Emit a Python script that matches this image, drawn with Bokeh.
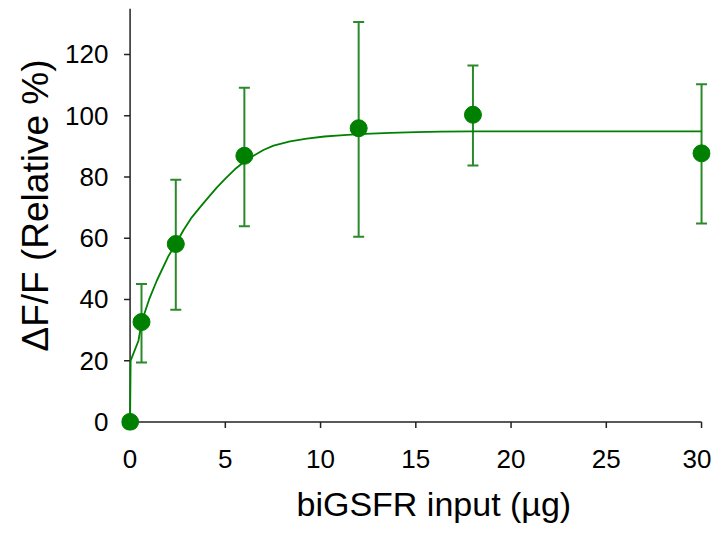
from bokeh.plotting import figure
from bokeh.models import (Range1d, Whisker, TeeHead, ColumnDataSource,
                          FixedTicker, Title)
from bokeh.embed import file_html
from bokeh.resources import INLINE

# data
dose = [0, 0.6, 2.4, 6, 12, 18, 30]
response = [0, 32.6, 58.1, 86.9, 95.9, 100.3, 87.7]
err_upper = [0, 45.0, 79.1, 109.1, 130.6, 116.4, 110.3]
err_lower = [0, 19.4, 36.6, 63.9, 60.5, 83.7, 64.8]

# fitted curve, points
fit_x = [0, 0.03, 0.44, 0.61, 1.0, 1.4, 2.0, 2.4, 2.8, 3.24, 3.7, 4.11, 4.55,
         4.99, 5.5, 6.04, 6.5, 7.0, 7.53, 8.4, 9.28, 10.2, 11.03, 12.0, 13.66,
         15.0, 16.3, 18, 30]
fit_y = [0, 20, 26.5, 32.7, 40.0, 46.1, 54.0, 58.1, 62.6, 66.8, 70.3, 73.3, 76.5,
         79.4, 82.5, 85.2, 87.0, 88.8, 90.2, 91.6, 92.5, 93.2, 93.6, 94.0, 94.4,
         94.6, 94.8, 94.9, 94.9]

x_ticks = [0, 5, 10, 15, 20, 25, 30]
y_ticks = [0, 20, 40, 60, 80, 100, 120]

x_title = "biGSFR input (µg)"
y_title = "ΔF/F (Relative %)"

FONT = "Liberation Sans"
GREEN = "#008000"
BAR = "#2a8a2a"
AXIS = "#222222"

X0, X1 = -0.45, 30.47
Y0, Y1 = -2.8, 135
PX_X = 19.03   # px per x unit
PX_Y = 3.058   # px per y unit

p = figure(width=711, height=539, output_backend="svg", toolbar_location=None,
           x_range=Range1d(X0, X1), y_range=Range1d(Y0, Y1),
           min_border_left=121, min_border_right=1, min_border_top=8,
           min_border_bottom=109)
p.outline_line_color = None
p.grid.grid_line_color = None

# axis lines and ticks drawn at the data zero lines
xmax, ymax = x_ticks[-1], Y1
p.segment(x0=[0, 0], y0=[0, 0], x1=[xmax, 0], y1=[0, ymax],
          line_color=AXIS, line_width=1.5)
tick_dy = 6 / PX_Y
tick_dx = 6 / PX_X
p.segment(x0=x_ticks, y0=[0] * len(x_ticks), x1=x_ticks,
          y1=[-tick_dy] * len(x_ticks), line_color=AXIS, line_width=1.5)
p.segment(x0=[0] * len(y_ticks), y0=y_ticks, x1=[-tick_dx] * len(y_ticks),
          y1=y_ticks, line_color=AXIS, line_width=1.5)

p.line(fit_x, fit_y, line_color=GREEN, line_width=1.8)

src = ColumnDataSource(dict(x=dose[1:], upper=err_upper[1:], lower=err_lower[1:]))
w = Whisker(base="x", upper="upper", lower="lower", source=src,
            line_color=BAR, line_width=2,
            upper_head=TeeHead(size=11, line_color=BAR, line_width=2),
            lower_head=TeeHead(size=11, line_color=BAR, line_width=2))
p.add_layout(w)

p.scatter(dose, response, size=17, fill_color=GREEN, line_color=GREEN)

for ax in (p.xaxis[0], p.yaxis[0]):
    ax.axis_line_color = None
    ax.major_tick_line_color = None
    ax.minor_tick_line_color = None
    ax.major_tick_out = 0
    ax.major_tick_in = 0
    ax.major_label_text_font = FONT
    ax.major_label_text_font_size = "26px"
    ax.major_label_text_color = "black"

p.xaxis[0].ticker = FixedTicker(ticks=x_ticks)
p.yaxis[0].ticker = FixedTicker(ticks=y_ticks)
p.xaxis[0].major_label_standoff = 19
p.yaxis[0].major_label_standoff = 13

# axis titles as side titles, so that their position along the axis can be set
p.add_layout(Title(text=x_title, align="left", offset=175, standoff=25,
                   text_font=FONT, text_font_size="34px",
                   text_font_style="normal", text_color="black"), "below")
p.add_layout(Title(text=y_title, align="left", offset=79, standoff=14,
                   text_font=FONT, text_font_size="37px",
                   text_font_style="normal", text_color="black"), "left")

open("out.html", "w").write(file_html(p, INLINE))
